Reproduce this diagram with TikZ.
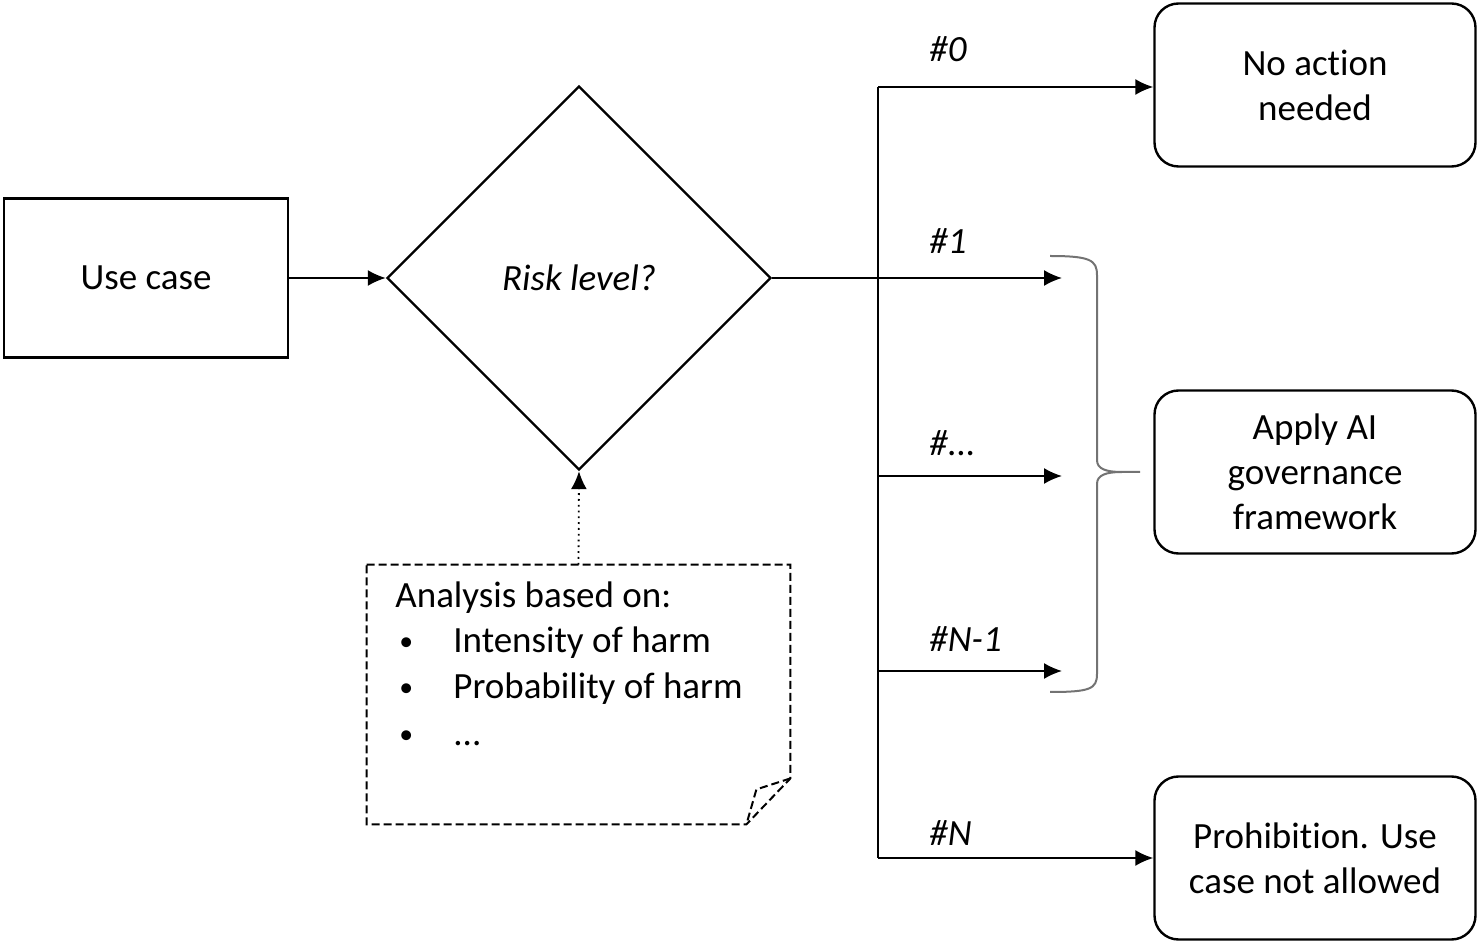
\documentclass[tikz,border=0pt]{standalone}
\usepackage{fontspec}
\setmainfont[RawFeature={-liga;-clig;-calt}]{Carlito}
\usetikzlibrary{shapes.geometric,arrows.meta,positioning}
\newcommand{\figfont}{\fontsize{18.5}{22.5}\selectfont}
\newcommand{\notebullet}{\makebox[29pt][l]{\hspace*{2pt}\raisebox{1pt}{\scalebox{0.75}{\textbullet}}}}
\tikzset{
  box/.style={draw, line width=1.2pt, minimum width=142pt, minimum height=79.5pt, align=center},
  outcome/.style={draw, line width=1.2pt, rounded corners=12pt, minimum width=160.5pt, minimum height=81.5pt, align=center},
  flow/.style={line width=0.9pt, -{Latex[length=9pt,width=8pt]}},
  branch/.style={anchor=base west, inner sep=0pt, font={\figfont\itshape}},
  notetxt/.style={anchor=base west, inner sep=0pt},
  brace/.style={gray!90!black, line width=1pt}
}
\begin{document}
\begin{tikzpicture}[x=0.5pt, y=-0.5pt, font=\figfont]
\useasboundingbox (0,0) rectangle (1480,946);
% main flow
\node[box] (usecase) at (146,278) {Use case};
\node[draw, diamond, line width=1.2pt, minimum width=192pt, minimum height=192pt, inner sep=0pt, font={\figfont\itshape}] (risk) at (579,278) {Risk level?};
\draw[flow] (usecase) -- (risk);
% outcomes
\node[outcome] (none) at (1315,85) {No act\kern0pt ion\\needed};
\node[outcome] (apply) at (1315,472) {Apply AI\\governance\\framework};
\node[outcome] (prohib) at (1315,858) {Prohibit\kern0pt ion. Use\\case not allowed};
% branches
\coordinate (top) at (878,87);
\coordinate (bottom) at (878,858);
\coordinate (t2) at (878,476);
\coordinate (t3) at (878,671);
\coordinate (b1) at (1062,278);
\coordinate (b2) at (1062,476);
\coordinate (b3) at (1062,671);
\draw[line width=0.9pt] (top) -- (bottom);
\draw[flow] (risk.east) -- (b1);
\draw[flow] (top) -- (top -| none.west);
\draw[flow] (t2) -- (b2);
\draw[flow] (t3) -- (b3);
\draw[flow] (bottom) -- (bottom -| prohib.west);
\node[branch] (l0) at (929,62) {\#0};
\node[branch] (l1) at (929,254) {\#1};
\node[branch] (l2) at (929,456) {\#...};
\node[branch] (l3) at (929,652) {\#N-1};
\node[branch] (l4) at (929,846) {\#N};
% brace
\draw[brace] (1050,256) .. controls (1090,256) and (1097,260) .. (1097,275) -- (1097,460)
  .. controls (1097,469) and (1106,472) .. (1122,472) -- (1140,472);
\draw[brace] (1122,472) .. controls (1106,472) and (1097,475) .. (1097,484) -- (1097,674)
  .. controls (1097,689) and (1090,692) .. (1050,692);
% note
\node[minimum width=211.5pt, minimum height=129.5pt, inner sep=0pt] (note) at (578.5,694.5) {};
\draw[line width=1pt, dash pattern=on 4pt off 2pt] (note.north west) -- (note.north east)
  -- ([yshift=23pt]note.south east) -- ([xshift=-22pt]note.south east) -- (note.south west) -- cycle;
\draw[line width=1pt, dash pattern=on 4pt off 2pt] ([yshift=23pt]note.south east)
  -- ([xshift=-17pt,yshift=17.5pt]note.south east) -- ([xshift=-22pt]note.south east);
\node[notetxt] (n0) at (395,608) {Analysis based on:};
\node[notetxt] (n1) at (395,653) {\notebullet Intensity of harm};
\node[notetxt] (n2) at (395,699) {\notebullet Probability of harm};
\node[notetxt] (n3) at (395,746) {\notebullet ...};
\draw[flow, dotted] (note.north) -- (risk.south);
\end{tikzpicture}
\end{document}
